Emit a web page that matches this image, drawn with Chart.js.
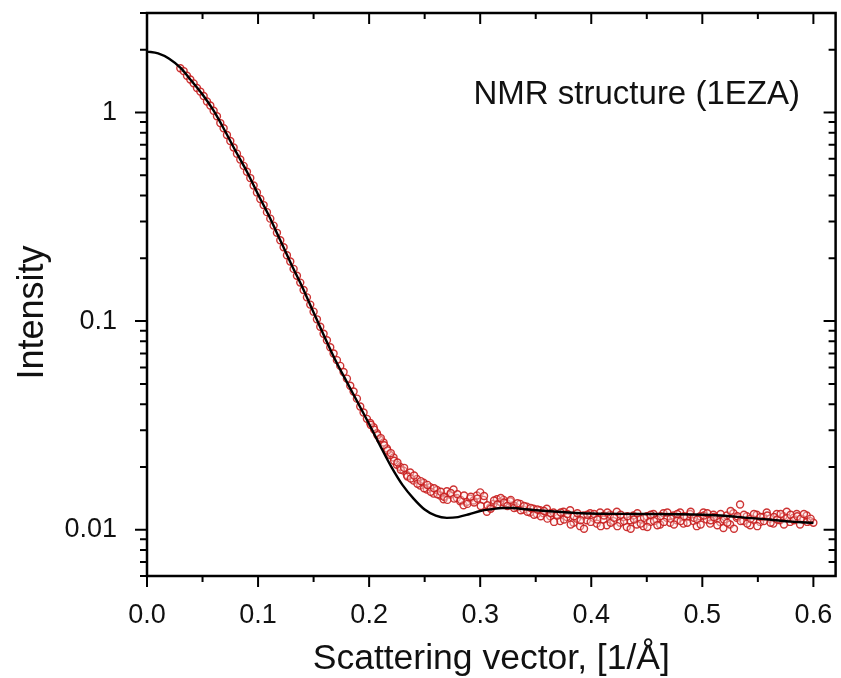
<!DOCTYPE html>
<html>
<head>
<meta charset="utf-8">
<script src="https://cdn.jsdelivr.net/npm/chart.js@4.4.1/dist/chart.umd.min.js"></script>
<style>
  html, body { margin: 0; padding: 0; background: #fff; }
</style>
</head>
<body>
<canvas id="myChart" width="841" height="678"></canvas>
<script>
// model curve (black line)
const qModel = [0, 0.01, 0.02, 0.03, 0.04, 0.05, 0.06, 0.07, 0.08, 0.09,
  0.10, 0.11, 0.12, 0.13, 0.14, 0.15, 0.16, 0.17, 0.18, 0.19,
  0.20, 0.21, 0.22, 0.23, 0.24, 0.25, 0.26, 0.27, 0.28, 0.29,
  0.30, 0.31, 0.32, 0.33, 0.34, 0.36, 0.38, 0.40, 0.44, 0.48,
  0.50, 0.52, 0.54, 0.56, 0.58, 0.60];
const iModel = [1.96, 1.92, 1.81, 1.64, 1.42, 1.22, 1.02, 0.82, 0.65, 0.52,
  0.405, 0.318, 0.244, 0.187, 0.145, 0.110, 0.0838, 0.0644, 0.051, 0.0405,
  0.0321, 0.0252, 0.020, 0.0164, 0.0141, 0.0125, 0.01167, 0.0114, 0.0115, 0.01186,
  0.0123, 0.01254, 0.0127, 0.0127, 0.01254, 0.0123, 0.0121, 0.01196, 0.0119, 0.01186,
  0.0118, 0.01167, 0.0114, 0.0112, 0.01093, 0.0108];

// measured data (red circles)
const qData = [0.030, 0.033, 0.036, 0.039, 0.042, 0.045, 0.048, 0.051, 0.054, 0.057,
  0.060, 0.063, 0.066, 0.069, 0.072, 0.075, 0.078, 0.081, 0.084, 0.087,
  0.090, 0.093, 0.096, 0.099, 0.102, 0.105, 0.108, 0.111, 0.114, 0.117,
  0.120, 0.123, 0.126, 0.129, 0.132, 0.135, 0.138, 0.141, 0.144, 0.147,
  0.150, 0.153, 0.156, 0.159, 0.162, 0.165, 0.168, 0.171, 0.174, 0.177,
  0.180, 0.183, 0.186, 0.189, 0.192, 0.195, 0.198, 0.201, 0.204, 0.207,
  0.210, 0.213, 0.216, 0.219, 0.222, 0.225, 0.228, 0.231, 0.234, 0.237,
  0.240, 0.243, 0.246, 0.249, 0.252, 0.255, 0.258, 0.261, 0.264, 0.267,
  0.270, 0.273, 0.276, 0.279, 0.282, 0.285, 0.288, 0.291, 0.294, 0.297,
  0.300, 0.303, 0.306, 0.309, 0.312, 0.315, 0.318, 0.321, 0.324, 0.327,
  0.330, 0.333, 0.336, 0.339, 0.342, 0.345, 0.348, 0.351, 0.354, 0.357,
  0.360, 0.363, 0.366, 0.369, 0.372, 0.375, 0.378, 0.381, 0.384, 0.387,
  0.390, 0.393, 0.396, 0.399, 0.402, 0.405, 0.408, 0.411, 0.414, 0.417,
  0.420, 0.423, 0.426, 0.429, 0.432, 0.435, 0.438, 0.441, 0.444, 0.447,
  0.450, 0.453, 0.456, 0.459, 0.462, 0.465, 0.468, 0.471, 0.474, 0.477,
  0.480, 0.483, 0.486, 0.489, 0.492, 0.495, 0.498, 0.501, 0.504, 0.507,
  0.510, 0.513, 0.516, 0.519, 0.522, 0.525, 0.528, 0.531, 0.534, 0.537,
  0.540, 0.543, 0.546, 0.549, 0.552, 0.555, 0.558, 0.561, 0.564, 0.567,
  0.570, 0.573, 0.576, 0.579, 0.582, 0.585, 0.588, 0.591, 0.594, 0.597,
  0.600];
const iData = [1.63, 1.58, 1.50, 1.44, 1.38, 1.31, 1.26, 1.20, 1.13, 1.08,
  1.02, 0.96, 0.89, 0.84, 0.78, 0.73, 0.68, 0.635, 0.595, 0.555,
  0.52, 0.485, 0.447, 0.414, 0.385, 0.36, 0.333, 0.31, 0.287, 0.265,
  0.244, 0.226, 0.207, 0.193, 0.178, 0.165, 0.153, 0.141, 0.130, 0.120,
  0.111, 0.102, 0.094, 0.087, 0.081, 0.075, 0.070, 0.065, 0.061, 0.057,
  0.053, 0.049, 0.046, 0.0425, 0.039, 0.0365, 0.034, 0.0325, 0.0310, 0.0290,
  0.0270, 0.0262, 0.0245, 0.0228, 0.0222, 0.0205, 0.0200, 0.0192, 0.0183, 0.0188,
  0.0172, 0.0175, 0.0163, 0.0168, 0.0156, 0.0160, 0.0149, 0.0155, 0.0146, 0.0140,
  0.0153, 0.0147, 0.0156, 0.0142, 0.0137, 0.0131, 0.0136, 0.0141, 0.0138, 0.0146,
  0.0151, 0.0139, 0.0122, 0.0128, 0.0133, 0.0140, 0.0136, 0.0139, 0.0134, 0.0137,
  0.0131, 0.0128, 0.0133, 0.0125, 0.0129, 0.0121, 0.0126, 0.0119, 0.0124, 0.0120,
  0.0126, 0.0116, 0.0121, 0.0118, 0.0110, 0.0122, 0.0115, 0.0124, 0.0108, 0.0113,
  0.0104, 0.0117, 0.0111, 0.0120, 0.0114, 0.0107, 0.0121, 0.0112, 0.0105, 0.0118,
  0.0110, 0.0122, 0.0108, 0.0115, 0.0103, 0.0111, 0.0117, 0.0106, 0.0113, 0.0104,
  0.0116, 0.0109, 0.0119, 0.0112, 0.0106, 0.0120, 0.0114, 0.0108, 0.0117, 0.0111,
  0.0121, 0.0107, 0.0115, 0.0119, 0.0110, 0.0104, 0.0116, 0.0121, 0.0112, 0.0107,
  0.0118, 0.0113, 0.0109, 0.0102, 0.0117, 0.0106, 0.0120, 0.0114, 0.0132, 0.0110,
  0.0116, 0.0105, 0.0112, 0.0118, 0.0109, 0.0115, 0.0121, 0.0113, 0.0107, 0.0119,
  0.0111, 0.0116, 0.0122, 0.0109, 0.0114, 0.0119, 0.0106, 0.0112, 0.0117, 0.0110,
  0.0108];

// interleaved measured points in the flat tail
const qDataB = [0.2015, 0.2045, 0.2075, 0.2105, 0.2135, 0.2165, 0.2195, 0.2225, 0.2255, 0.2285,
  0.2315, 0.2345, 0.2375, 0.2405, 0.2435, 0.2465, 0.2495, 0.2525, 0.2555, 0.2585,
  0.2615, 0.2645, 0.2675, 0.2705, 0.2735, 0.2765, 0.2795, 0.2825, 0.2855, 0.2885,
  0.2915, 0.2945, 0.2975, 0.3005, 0.3035, 0.3065, 0.3095, 0.3125, 0.3155, 0.3185,
  0.3215, 0.3245, 0.3275, 0.3305, 0.3335, 0.3365, 0.3395, 0.3425, 0.3455, 0.3485,
  0.3515, 0.3545, 0.3575, 0.3605, 0.3635, 0.3665, 0.3695, 0.3725, 0.3755, 0.3785,
  0.3815, 0.3845, 0.3875, 0.3905, 0.3935, 0.3965, 0.3995, 0.4025, 0.4055, 0.4085,
  0.4115, 0.4145, 0.4175, 0.4205, 0.4235, 0.4265, 0.4295, 0.4325, 0.4355, 0.4385,
  0.4415, 0.4445, 0.4475, 0.4505, 0.4535, 0.4565, 0.4595, 0.4625, 0.4655, 0.4685,
  0.4715, 0.4745, 0.4775, 0.4805, 0.4835, 0.4865, 0.4895, 0.4925, 0.4955, 0.4985,
  0.5015, 0.5045, 0.5075, 0.5105, 0.5135, 0.5165, 0.5195, 0.5225, 0.5255, 0.5285,
  0.5315, 0.5345, 0.5375, 0.5405, 0.5435, 0.5465, 0.5495, 0.5525, 0.5555, 0.5585,
  0.5615, 0.5645, 0.5675, 0.5705, 0.5735, 0.5765, 0.5795, 0.5825, 0.5855, 0.5885,
  0.5915, 0.5945, 0.5975];
const iDataB = [0.0318, 0.0302, 0.0284, 0.0275, 0.0254, 0.0240, 0.0233, 0.0214, 0.0210, 0.0194,
  0.0198, 0.0180, 0.0176, 0.0182, 0.0166, 0.0171, 0.0158, 0.0164, 0.0152, 0.0158,
  0.0148, 0.0152, 0.0144, 0.0139, 0.0150, 0.0141, 0.0148, 0.0139, 0.0146, 0.0133,
  0.0144, 0.0135, 0.0141, 0.0130, 0.0145, 0.0131, 0.0126, 0.0138, 0.0132, 0.0142,
  0.0135, 0.0130, 0.0139, 0.0127, 0.0134, 0.0124, 0.0130, 0.0122, 0.0127, 0.0118,
  0.0125, 0.0116, 0.0123, 0.0113, 0.0120, 0.0109, 0.0117, 0.0121, 0.0112, 0.0119,
  0.0106, 0.0116, 0.0120, 0.0111, 0.0101, 0.0118, 0.0109, 0.0119, 0.0112, 0.0104,
  0.0117, 0.0121, 0.0108, 0.0114, 0.0104, 0.0118, 0.0110, 0.0116, 0.0101, 0.0112,
  0.0120, 0.0107, 0.0114, 0.0103, 0.0118, 0.0110, 0.0105, 0.0116, 0.0109, 0.0121,
  0.0113, 0.0106, 0.0119, 0.0110, 0.0116, 0.0108, 0.0122, 0.0114, 0.0112, 0.0106,
  0.0117, 0.0120, 0.0111, 0.0115, 0.0105, 0.0119, 0.0112, 0.0108, 0.0123, 0.0101,
  0.0116, 0.0110, 0.0118, 0.0107, 0.0113, 0.0119, 0.0104, 0.0115, 0.0110, 0.0117,
  0.0108, 0.0115, 0.0112, 0.0119, 0.0106, 0.0114, 0.0118, 0.0111, 0.0116, 0.0113,
  0.0119, 0.0109, 0.0113];

// axis ticks
const xTicks = [0, 0.05, 0.1, 0.15, 0.2, 0.25, 0.3, 0.35, 0.4, 0.45, 0.5, 0.55, 0.6];
const yTicks = [0.006, 0.007, 0.008, 0.009, 0.01, 0.02, 0.03, 0.04, 0.05, 0.06, 0.07, 0.08, 0.09,
  0.1, 0.2, 0.3, 0.4, 0.5, 0.6, 0.7, 0.8, 0.9, 1, 2, 3];
const yLabelTicks = [0.01, 0.1, 1];

const FONT = '"Liberation Sans", Arial, sans-serif';

function isMajorX(v) {
  return Math.abs(v * 10 - Math.round(v * 10)) < 1e-6;
}
function isMajorY(v) {
  return yLabelTicks.some(t => Math.abs(t - v) < 1e-9);
}

const points = qData.map((q, i) => ({x: q, y: iData[i]}))
  .concat(qDataB.map((q, i) => ({x: q, y: iDataB[i]})));

// frame, mirrored ticks, y title and the label inside the plot
const framePlugin = {
  id: 'frame',
  afterDatasetsDraw(chart) {
    const {ctx, chartArea: a, scales: {x, y}} = chart;
    ctx.save();
    ctx.strokeStyle = '#000';
    ctx.lineWidth = 2;
    ctx.beginPath();
    x.ticks.forEach(t => {
      const px = x.getPixelForValue(t.value);
      const len = isMajorX(t.value) ? 11 : 6;
      ctx.moveTo(px, a.bottom); ctx.lineTo(px, a.bottom + len);
      ctx.moveTo(px, a.top); ctx.lineTo(px, a.top + len);
    });
    y.ticks.forEach(t => {
      const py = y.getPixelForValue(t.value);
      const len = isMajorY(t.value) ? 12 : 7;
      ctx.moveTo(a.left - len, py); ctx.lineTo(a.left, py);
      ctx.moveTo(a.right - len, py); ctx.lineTo(a.right, py);
    });
    ctx.stroke();
    ctx.lineWidth = 2.5;
    ctx.strokeRect(a.left, a.top, a.right - a.left, a.bottom - a.top);

    ctx.fillStyle = '#111';
    ctx.font = '33px ' + FONT;
    ctx.textBaseline = 'alphabetic';
    ctx.textAlign = 'left';
    ctx.fillText('NMR structure (1EZA)', x.getPixelForValue(0.294), y.getPixelForValue(1.1));

    ctx.translate(33, (a.top + a.bottom) / 2 + 18);
    ctx.rotate(-Math.PI / 2);
    ctx.font = '36px ' + FONT;
    ctx.textAlign = 'center';
    ctx.textBaseline = 'middle';
    ctx.fillText('Intensity', 0, 0);
    ctx.restore();
  }
};

new Chart(document.getElementById('myChart'), {
  type: 'scatter',
  data: {
    datasets: [
      {
        type: 'line',
        label: 'model',
        data: qModel.map((q, i) => ({x: q, y: iModel[i]})),
        borderColor: '#000',
        borderWidth: 2.4,
        pointRadius: 0,
        fill: false,
        cubicInterpolationMode: 'monotone'
      },
      {
        label: 'data',
        data: points,
        pointRadius: 3.5,
        pointBorderWidth: 1.4,
        borderColor: 'rgba(200,30,30,0.9)',
        backgroundColor: 'rgba(255,235,235,0.4)',
        showLine: false
      }
    ]
  },
  options: {
    responsive: false,
    animation: false,
    devicePixelRatio: 1,
    layout: { padding: { top: 13, right: 3, left: 0, bottom: 0 } },
    plugins: {
      legend: { display: false },
      tooltip: { enabled: false }
    },
    scales: {
      x: {
        type: 'linear',
        min: 0,
        max: 0.62,
        afterBuildTicks: s => { s.ticks = xTicks.map(v => ({value: v})); },
        afterFit: s => { s.height = 102; s.paddingLeft = 0; s.paddingRight = 0; },
        grid: { display: false },
        border: { display: false },
        ticks: {
          padding: 15,
          autoSkip: false,
          maxRotation: 0,
          color: '#111',
          font: { size: 27, family: FONT },
          callback: v => isMajorX(v) ? v.toFixed(1) : ''
        },
        title: {
          display: true,
          text: 'Scattering vector, [1/Å]',
          color: '#111',
          font: { size: 35.5, family: FONT, lineHeight: 1 },
          padding: { top: 0, bottom: 1 }
        }
      },
      y: {
        type: 'logarithmic',
        min: 0.006,
        max: 3,
        afterBuildTicks: s => { s.ticks = yTicks.map(v => ({value: v})); },
        afterFit: s => { s.width = 147; s.paddingTop = 0; s.paddingBottom = 0; },
        grid: { display: false },
        border: { display: false },
        ticks: {
          padding: 22,
          autoSkip: false,
          color: '#111',
          font: { size: 27, family: FONT },
          callback: v => isMajorY(v) ? String(v) : ''
        },
        title: { display: false }
      }
    }
  },
  plugins: [framePlugin]
});
</script>
</body>
</html>
